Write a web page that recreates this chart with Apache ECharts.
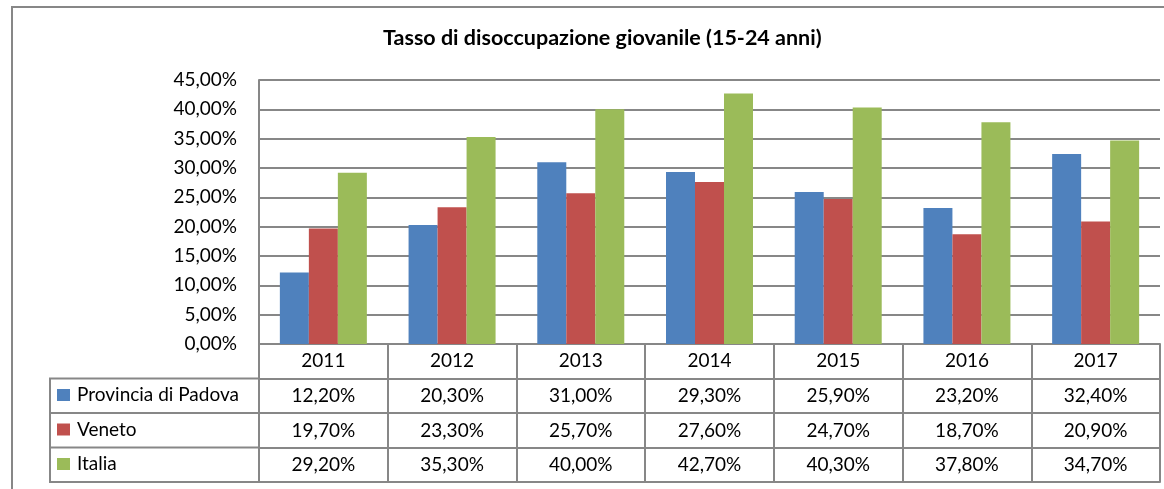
<!DOCTYPE html>
<html>
<head>
<meta charset="utf-8">
<script src="https://cdn.jsdelivr.net/npm/echarts@6/dist/echarts.min.js"></script>
<style>
  html, body { margin: 0; padding: 0; background: #fff; }
  #chart { width: 1164px; height: 489px; }
</style>
</head>
<body>
<div id="chart"></div>
<script>
const years = ['2011', '2012', '2013', '2014', '2015', '2016', '2017']
const padova = [12.2, 20.3, 31.0, 29.3, 25.9, 23.2, 32.4]
const veneto = [19.7, 23.3, 25.7, 27.6, 24.7, 18.7, 20.9]
const italia = [29.2, 35.3, 40.0, 42.7, 40.3, 37.8, 34.7]
const seriesNames = ['Provincia di Padova', 'Veneto', 'Italia']
const colors = ['#4F81BD', '#C0504D', '#9BBB59']

const FONT = 'Lato, "Liberation Sans", sans-serif'
const FS = 19
const GRAY = '#878787'
const GRID_LEFT = 259
const GRID_TOP = 80
const GRID_W = 901
const GRID_H = 264
const ROW_H = 34.5
const LEG_LEFT = 50

const pct = v => v.toFixed(2).replace('.', ',') + '%'

const chart = echarts.init(document.getElementById('chart'))

// one category axis per table row, stacked below the plot with offset
function rowAxis(i, data, name) {
  return {
    type: 'category',
    gridIndex: 0,
    position: 'bottom',
    offset: ROW_H * i,
    data: data,
    axisLine: { show: true, lineStyle: { color: GRAY, width: 2 } },
    axisTick: { show: data.length > 0, interval: 0, length: ROW_H, lineStyle: { color: GRAY, width: 2 } },
    axisLabel: { show: data.length > 0, interval: 0, margin: 8, color: '#000', fontSize: FS, fontFamily: FONT },
    name: name ? `{sq${i}|}{t|${name}}` : '',
    nameLocation: 'start',
    nameGap: GRID_LEFT - LEG_LEFT - 7,
    nameTextStyle: {
      align: 'left',
      verticalAlign: 'top',
      padding: [7, 0, 0, 0],
      rich: {
        ['sq' + i]: { width: 13, height: 12, backgroundColor: colors[i - 1] },
        t: { color: '#000', fontSize: FS, fontFamily: FONT, padding: [0, 0, 0, 7] }
      }
    }
  }
}

const tableRows = [padova, veneto, italia]

chart.setOption({
  backgroundColor: '#fff',
  animation: false,
  title: {
    text: 'Tasso di disoccupazione giovanile (15-24 anni)',
    left: 378,
    top: 22,
    textStyle: { fontFamily: FONT, fontSize: 21.5, fontWeight: 'bold', color: '#000' }
  },
  grid: { left: GRID_LEFT, top: GRID_TOP, width: GRID_W, height: GRID_H },
  xAxis: [
    {
      type: 'category',
      data: years,
      position: 'bottom',
      axisLine: { show: true, lineStyle: { color: GRAY, width: 2 } },
      axisTick: { show: true, interval: 0, length: ROW_H, lineStyle: { color: GRAY, width: 2 } },
      axisLabel: { interval: 0, margin: 7, color: '#000', fontSize: FS, fontFamily: FONT }
    },
    ...tableRows.map((vals, k) => rowAxis(k + 1, vals.map(pct), seriesNames[k])),
    rowAxis(4, [], '')
  ],
  yAxis: {
    type: 'value',
    min: 0,
    max: 45,
    interval: 5,
    axisLine: { show: true, lineStyle: { color: GRAY, width: 2 } },
    axisTick: { show: false },
    splitLine: { lineStyle: { color: GRAY, width: 2 } },
    axisLabel: { margin: 22, color: '#000', fontSize: FS, fontFamily: FONT, formatter: pct }
  },
  series: tableRows.map((vals, k) => ({
    name: seriesNames[k],
    type: 'bar',
    data: vals,
    barWidth: 29,
    barGap: '0%',
    itemStyle: { color: colors[k] }
  })),
  graphic: [
    // outer chart frame
    {
      type: 'rect',
      shape: { x: 12, y: 7, width: 1200, height: 520 },
      style: { fill: 'none', stroke: GRAY, lineWidth: 2 },
      silent: true
    },
    // legend column of the data table
    {
      type: 'rect',
      shape: { x: LEG_LEFT, y: GRID_TOP + GRID_H + ROW_H, width: GRID_LEFT - LEG_LEFT, height: ROW_H * 3 },
      style: { fill: 'none', stroke: GRAY, lineWidth: 2 },
      silent: true
    },
    {
      type: 'line',
      shape: { x1: LEG_LEFT, y1: GRID_TOP + GRID_H + ROW_H * 2, x2: GRID_LEFT, y2: GRID_TOP + GRID_H + ROW_H * 2 },
      style: { stroke: GRAY, lineWidth: 2 },
      silent: true
    },
    {
      type: 'line',
      shape: { x1: LEG_LEFT, y1: GRID_TOP + GRID_H + ROW_H * 3, x2: GRID_LEFT, y2: GRID_TOP + GRID_H + ROW_H * 3 },
      style: { stroke: GRAY, lineWidth: 2 },
      silent: true
    }
  ]
})
</script>
</body>
</html>
